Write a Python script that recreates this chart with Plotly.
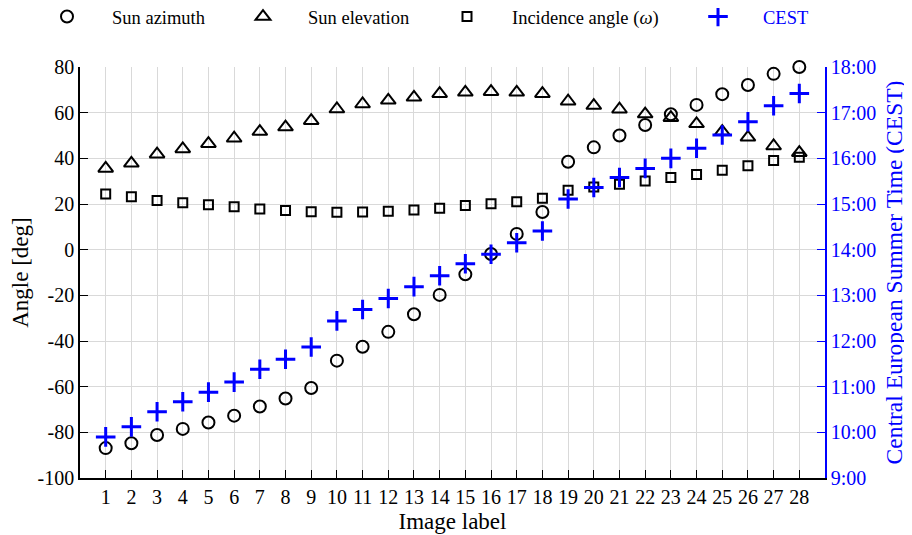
import plotly.graph_objects as go

labels = list(range(1, 29))
sun_azimuth = [-86.9, -84.8, -81.2, -78.5, -75.7, -72.7, -68.7, -65.2, -60.6, -48.6,
               -42.5, -36.0, -28.3, -19.8, -10.8, -1.9, 6.9, 16.5, 38.5, 44.8,
               50.0, 54.6, 59.3, 63.4, 68.1, 72.1, 77.0, 80.0]
sun_elevation = [35.6, 37.8, 41.8, 44.1, 46.4, 48.8, 51.7, 53.7, 56.5, 61.6,
                 63.8, 65.4, 66.7, 68.3, 68.9, 69.2, 68.9, 68.3, 65.0, 63.1,
                 61.5, 59.4, 57.8, 55.1, 51.7, 49.2, 45.4, 42.5]
incidence = [24.4, 23.2, 21.5, 20.6, 19.7, 18.8, 17.8, 17.2, 16.6, 16.4,
             16.5, 16.8, 17.4, 18.1, 19.3, 20.1, 21.0, 22.5, 26.0, 27.4,
             28.6, 30.1, 31.6, 32.9, 34.8, 36.7, 39.0, 40.5]
cest_hours = [9.90, 10.12, 10.45, 10.67, 10.88, 11.10, 11.38, 11.60, 11.87, 12.44,
              12.69, 12.93, 13.19, 13.43, 13.69, 13.90, 14.15, 14.41, 15.11, 15.36,
              15.58, 15.78, 16.00, 16.22, 16.51, 16.80, 17.15, 17.42]
angle_ticks = list(range(-100, 81, 20))
angle_labels = [str(v) for v in angle_ticks]
time_ticks = list(range(9, 19))
time_labels = [f"{h}:00" for h in time_ticks]

FONT = "Liberation Serif"
fig = go.Figure()
fig.add_trace(go.Scatter(x=labels, y=sun_azimuth, mode="markers", name="Sun azimuth",
                         legend="legend", cliponaxis=False,
                         marker=dict(symbol="circle-open", size=12, color="black",
                                     line=dict(width=2, color="black"))))
fig.add_trace(go.Scatter(x=labels, y=sun_elevation, mode="markers", name="Sun elevation",
                         legend="legend2", cliponaxis=False,
                         marker=dict(symbol="triangle-up-open", size=13, color="black",
                                     line=dict(width=2, color="black"))))
fig.add_trace(go.Scatter(x=labels, y=incidence, mode="markers",
                         name="Incidence angle (<i>ω</i>)", legend="legend3",
                         cliponaxis=False,
                         marker=dict(symbol="square-open", size=9, color="black",
                                     line=dict(width=2, color="black"))))
fig.add_trace(go.Scatter(x=labels, y=cest_hours, mode="markers", name="CEST",
                         yaxis="y2", legend="legend4", cliponaxis=False,
                         marker=dict(symbol="cross-thin-open", size=14, color="blue",
                                     line=dict(width=3, color="blue"))))

def leg(xpix, color="black"):
    return dict(orientation="h", xref="container", yref="container",
                x=xpix / 912, y=1 - 9 / 535, xanchor="left", yanchor="middle",
                font=dict(family=FONT, size=18.5, color=color),
                itemwidth=80, bgcolor="rgba(0,0,0,0)")

fig.update_layout(
    width=912, height=535,
    margin=dict(l=72, r=95, t=59, b=65),
    paper_bgcolor="white", plot_bgcolor="white",
    font=dict(family=FONT, size=20, color="black"),
    showlegend=True,
    legend=leg(59 - 45),
    legend2=leg(255 - 45),
    legend3=leg(459 - 45),
    legend4=leg(710 - 45, "blue"),
    xaxis=dict(range=[0, 29], tickmode="array", tickvals=labels,
               ticktext=[str(v) for v in labels],
               ticks="inside", ticklen=8, tickcolor="black", tickwidth=1,
               showline=True, linecolor="black", linewidth=1.5,
               showgrid=True, gridcolor="#d9d9d9", gridwidth=1, zeroline=False,
               automargin=False,
               title=dict(text="Image label", font=dict(size=23), standoff=6),
               tickfont=dict(size=20)),
    yaxis=dict(range=[-100, 80], tickmode="array", tickvals=angle_ticks,
               ticktext=angle_labels,
               ticks="inside", ticklen=8, tickcolor="black",
               showline=True, linecolor="black", linewidth=1.5,
               showgrid=True, gridcolor="#d9d9d9", gridwidth=1, zeroline=False,
               automargin=False,
               title=dict(text="Angle [deg]", font=dict(size=23), standoff=4),
               tickfont=dict(size=20)),
    yaxis2=dict(range=[9, 18], overlaying="y", side="right", anchor="x",
                tickmode="array", tickvals=time_ticks, ticktext=time_labels,
                ticks="inside", ticklen=8, tickcolor="blue",
                showline=True, linecolor="blue", linewidth=1.5,
                showgrid=False, zeroline=False, automargin=False,
                title=dict(text="Central European Summer Time (CEST)",
                           font=dict(size=23.5, color="blue"), standoff=10),
                tickfont=dict(size=20, color="blue")),
)
fig.write_html("out.html")
